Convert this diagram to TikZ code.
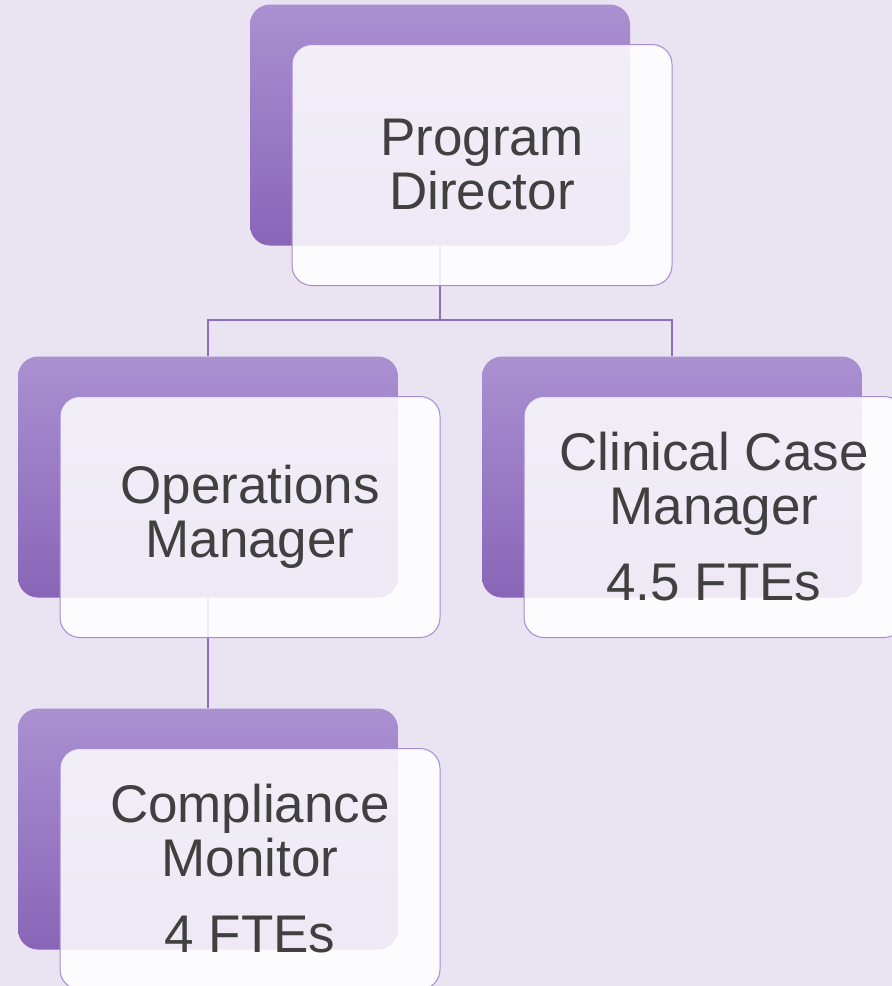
\documentclass[tikz,border=0pt]{standalone}
\usepackage{fontspec}
\setmainfont{Liberation Sans}
\usepackage{tikz}
\usetikzlibrary{positioning, calc}

\definecolor{bgcol}{RGB}{234,227,242}
\definecolor{backtop}{RGB}{170,144,209}
\definecolor{backbot}{RGB}{137,101,183}
\definecolor{framecol}{RGB}{168,140,208}
\definecolor{linkcol}{RGB}{142,107,191}
\definecolor{textcol}{RGB}{64,64,64}

\begin{document}
\begin{tikzpicture}[
        x=1pt, y=-1pt,
        backbox/.style={rectangle, rounded corners=20pt, minimum width=380pt, minimum height=241pt, top color=backtop, bottom color=backbot, draw=none},
        frontbox/.style={rectangle, rounded corners=20pt, minimum width=380pt, minimum height=241pt, draw=framecol, line width=1pt, fill=white, fill opacity=0.86, text opacity=1, align=center, text=textcol, font=\fontsize{53}{54}\selectfont},
        link/.style={draw=linkcol, line width=1.1pt}
    ]

    % Background
    \fill[bgcol] (0,0) rectangle (892,986);
    \useasboundingbox (0,0) rectangle (892,986);
    \clip (0,0) rectangle (892,986);

    % Back boxes
    \node [backbox] (directorback) at (440,125) {};
    \node [backbox] (opsback) at (208,477) {};
    \node [backbox] (clinicalback) at (672,477) {};
    \node [backbox] (complianceback) at (208,829) {};

    % Lines
    \coordinate (split) at (440,320);
    \draw[link] (directorback.south) -- (split) -| (opsback.north);
    \draw[link] (split) -| (clinicalback.north);
    \draw[link] (opsback.south) -- (complianceback.north);

    % Front boxes
    \node [frontbox] (director) at ([xshift=42pt, yshift=-40pt]directorback.center) {Program\\Director};
    \node [frontbox] (ops) at ([xshift=42pt, yshift=-40pt]opsback.center) {Operations\\Manager};
    \node [frontbox] (clinical) at ([xshift=42pt, yshift=-40pt]clinicalback.center) {Clinical Case\\Manager\\[22pt]4.5 FTEs};
    \node [frontbox] (compliance) at ([xshift=42pt, yshift=-40pt]complianceback.center) {Compliance\\Monitor\\[22pt]4 FTEs};

\end{tikzpicture}
\end{document}
